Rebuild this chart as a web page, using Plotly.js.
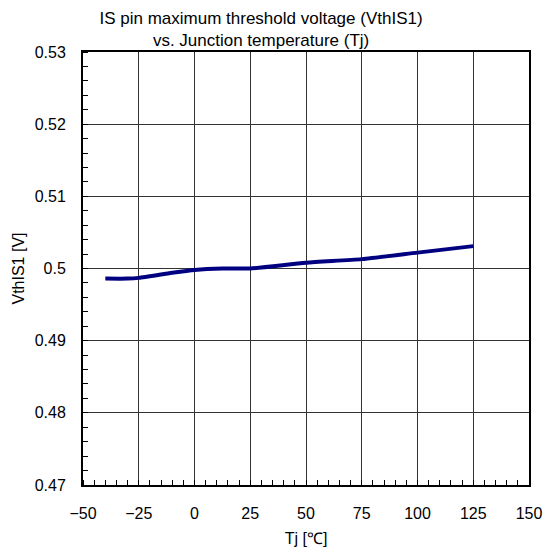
<!DOCTYPE html>
<html>
<head>
<meta charset="utf-8">
<script src="https://cdn.plot.ly/plotly-3.0.1.min.js"></script>
<style>html,body{margin:0;padding:0;background:#fff;}#chart{width:545px;height:555px;}</style>
</head>
<body>
<div id="chart"></div>
<script>
var tj = [-40, -30, -25, -10, 0, 12.5, 25, 50, 75, 100, 125];
var vth = [0.4986, 0.4986, 0.4987, 0.4994, 0.4998, 0.5, 0.5, 0.5008, 0.5013, 0.5022, 0.5031];
var xTicks = [-50, -25, 0, 25, 50, 75, 100, 125, 150];
var yTicks = [0.47, 0.48, 0.49, 0.5, 0.51, 0.52, 0.53];
var yTickText = ["0.47", "0.48", "0.49", "0.5", "0.51", "0.52", "0.53"];

var FONT = '"Liberation Sans", Arial, sans-serif';

var trace = {
  x: tj, y: vth, type: 'scatter', mode: 'lines',
  line: {color: '#000080', width: 4, shape: 'spline', smoothing: 0.6},
  hoverinfo: 'none'
};

var layout = {
  width: 545, height: 555,
  margin: {l: 83, r: 16, t: 52, b: 70, pad: 0},
  paper_bgcolor: '#ffffff', plot_bgcolor: '#ffffff',
  font: {family: FONT, size: 16, color: '#000000'},
  showlegend: false,
  title: {
    text: 'IS pin maximum threshold voltage (VthIS1)<br>vs. Junction temperature (Tj)',
    x: 0.479, xanchor: 'center', xref: 'container',
    y: 0.9575, yref: 'container', yanchor: 'middle',
    font: {family: FONT, size: 17, color: '#000000'}
  },
  xaxis: {
    range: [-50, 150], tickvals: xTicks, ticktext: xTicks.map(function(v){return v < 0 ? '\u2212' + Math.abs(v) : String(v);}),
    showgrid: true, gridcolor: '#333333', gridwidth: 1,
    showline: true, linecolor: '#000000', linewidth: 2, mirror: true,
    ticks: '', zeroline: false, ticklabelstandoff: 13,
    minor: {ticks: 'inside', dtick: 5, tick0: 0, ticklen: 5, tickcolor: '#000000', tickwidth: 1, showgrid: false},
    tickfont: {family: FONT, size: 16},
    title: {text: 'Tj [\u2103]', font: {family: FONT, size: 16}, standoff: 12},
    fixedrange: true
  },
  yaxis: {
    range: [0.47, 0.53], tickvals: yTicks, ticktext: yTickText,
    showgrid: true, gridcolor: '#333333', gridwidth: 1,
    showline: true, linecolor: '#000000', linewidth: 2, mirror: true,
    ticks: '', zeroline: false, ticklabelstandoff: 12,
    minor: {ticks: 'inside', dtick: 0.002, tick0: 0.47, ticklen: 5, tickcolor: '#000000', tickwidth: 1, showgrid: false},
    tickfont: {family: FONT, size: 16},
    title: {text: 'VthIS1 [V]', font: {family: FONT, size: 16}, standoff: 6},
    fixedrange: true
  }
};

Plotly.newPlot('chart', [trace], layout, {staticPlot: true, displayModeBar: false});
</script>
</body>
</html>
